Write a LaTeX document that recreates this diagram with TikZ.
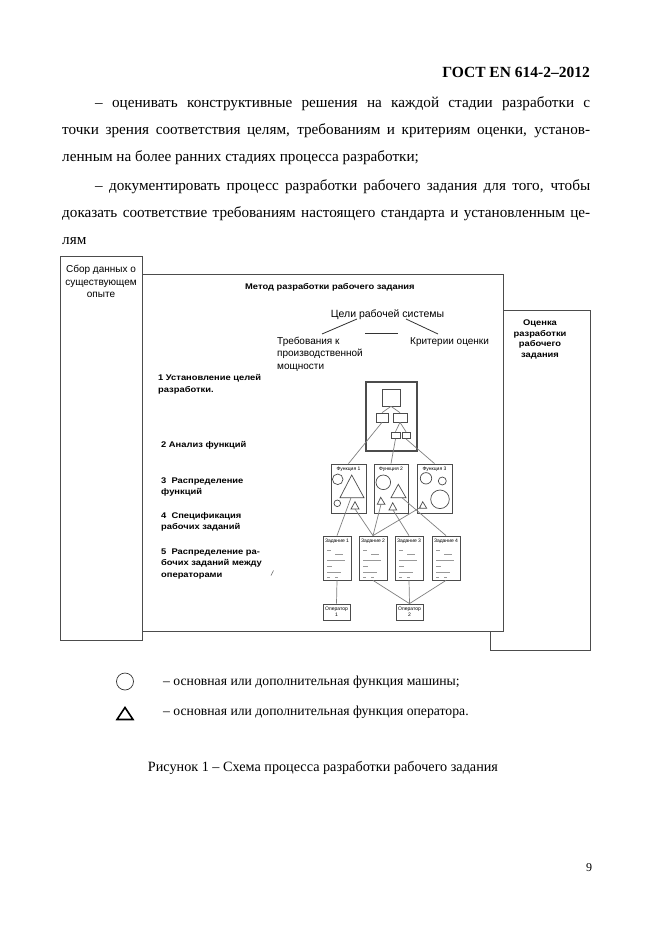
\documentclass[tikz,border=0pt]{standalone}
\usepackage{fontspec}
\setmainfont{Liberation Serif}
\newfontfamily\arialfam{Liberation Sans}
\newcommand{\wb}[1]{\scalebox{1.14}[1]{#1}}
\begin{document}
\begin{tikzpicture}[x=1pt,y=-1pt,
  frame/.style={draw=black!70, line width=0.9pt, fill=white, inner sep=0pt},
  sbox/.style={draw=black!70, line width=0.8pt, fill=white, inner sep=0pt},
  conn/.style={draw=black!50, line width=0.7pt},
  shp/.style={draw=black!70, line width=0.7pt},
  body/.style={font=\fontsize{15.2}{17}\selectfont, inner sep=0pt, anchor=base west},
  lbl/.style={font=\arialfam\bfseries\fontsize{8.2}{10}\selectfont, inner sep=0pt, anchor=base west},
  sans/.style={font=\arialfam\fontsize{10}{12}\selectfont, inner sep=0pt},
  tiny/.style={font=\arialfam\fontsize{5}{6}\selectfont, inner sep=0pt},
  scrib/.style={draw=black!40, line width=0.5pt}
]
\useasboundingbox (0,0) rectangle (661,936);
\fill[white] (0,0) rectangle (661,936);

% ---------- page text ----------
\node[inner sep=0pt, anchor=base east, font=\bfseries\fontsize{15.5}{17}\selectfont] (hdr) at (590,78) {ГОСТ EN 614-2–2012};
\node[body] (p1) at (95,108) {\makebox[495pt][s]{– оценивать конструктивные решения на каждой стадии разработки с}};
\node[body] (p2) at (62,135) {\makebox[528pt][s]{точки зрения соответствия целям, требованиям и критериям оценки, установ-}};
\node[body] (p3) at (62,162) {ленным на более ранних стадиях процесса разработки;};
\node[body] (p4) at (95,190) {\makebox[495pt][s]{– документировать процесс разработки рабочего задания для того, чтобы}};
\node[body] (p5) at (62,217) {\makebox[528pt][s]{доказать соответствие требованиям настоящего стандарта и установленным це-}};
\node[body] (p6) at (62,244) {лям};

% ---------- big frames ----------
\node[frame, minimum width=82pt, minimum height=384pt] (lb) at (101,448) {};
\node[frame, minimum width=100pt, minimum height=340pt] (rb) at (540,480) {};
\node[frame, minimum width=361pt, minimum height=357pt] (mb) at (322.5,452.5) {};

\node[sans, anchor=base] (lbt1) at (101,272) {Сбор данных о};
\node[sans, anchor=base] (lbt2) at (101,285) {существующем};
\node[sans, anchor=base] (lbt3) at (101,297) {опыте};

\node[lbl, anchor=base] (rbt1) at (540,325) {\wb{Оценка}};
\node[lbl, anchor=base] (rbt2) at (540,336) {\wb{разработки}};
\node[lbl, anchor=base] (rbt3) at (540,346) {\wb{рабочего}};
\node[lbl, anchor=base] (rbt4) at (540,357) {\wb{задания}};

\node[lbl] (title) at (245,289) {\wb{Метод разработки рабочего задания}};

% goals
\node[sans, anchor=base, font=\arialfam\fontsize{10.5}{12}\selectfont] (goal) at (387.5,317) {Цели рабочей системы};
\node[sans, anchor=base west] (req1) at (277,344) {Требования к};
\node[sans, anchor=base west] (req2) at (277,356) {производственной};
\node[sans, anchor=base west] (req3) at (277,369) {мощности};
\node[sans, anchor=base west] (crit) at (410,344) {Критерии оценки};
\coordinate (gl) at (357,319);
\coordinate (gr) at (406,319);
\coordinate (rq) at (322,334);
\coordinate (cr) at (438,334);
\coordinate (ha) at (365,333);
\coordinate (hb) at (398,333);
\draw[black!80, line width=0.8pt] (gl) -- (rq);
\draw[black!80, line width=0.8pt] (gr) -- (cr);
\draw[black!80, line width=0.8pt] (ha) -- (hb);

% stage labels
\node[lbl] (s1a) at (158,380) {\wb{1 Установление целей}};
\node[lbl] (s1b) at (158,392) {\wb{разработки.}};
\node[lbl] (s2) at (161,447) {\wb{2 Анализ функций}};
\node[lbl] (s3a) at (161,483) {\wb{3\ \ Распределение}};
\node[lbl] (s3b) at (161,494) {\wb{функций}};
\node[lbl] (s4a) at (161,518) {\wb{4\ \ Спецификация}};
\node[lbl] (s4b) at (161,529) {\wb{рабочих заданий}};
\node[lbl] (s5a) at (161,554) {\wb{5\ \ Распределение ра-}};
\node[lbl] (s5b) at (161,565) {\wb{бочих заданий между}};
\node[lbl] (s5c) at (161,577) {\wb{операторами}};
\coordinate (mk1) at (271,575.5);
\coordinate (mk2) at (273.5,570.5);
\draw[black!60, line width=0.6pt] (mk1) -- (mk2);

% ---------- system box ----------
\node[draw=black!70, line width=1.1pt, inner sep=0pt, minimum width=51pt, minimum height=69pt] (sys) at (391.5,416.5) {};
\node[shp, inner sep=0pt, minimum width=18pt, minimum height=17pt] (sq) at (391,397.5) {};
\node[shp, inner sep=0pt, minimum width=12pt, minimum height=9pt] (sl) at (382,417.5) {};
\node[shp, inner sep=0pt, minimum width=14pt, minimum height=9pt] (sr) at (400,417.5) {};
\node[shp, inner sep=0pt, minimum width=9pt, minimum height=6.5pt] (tl) at (395.5,435.3) {};
\node[shp, inner sep=0pt, minimum width=8pt, minimum height=6.5pt] (tr) at (406,435.3) {};
\draw[conn] (sq.south) -- (sl.north);
\draw[conn] (sq.south) -- (sr.north);
\draw[conn] (sr.south) -- (tl.north);
\draw[conn] (sr.south) -- (tr.north);

% ---------- function boxes ----------
\node[sbox, minimum width=35pt, minimum height=49pt] (f1) at (348.5,488.5) {};
\node[sbox, minimum width=34pt, minimum height=49pt] (f2) at (391,488.5) {};
\node[sbox, minimum width=35pt, minimum height=49pt] (f3) at (434.5,488.5) {};
\node[tiny] (f1t) at (348.5,469) {Функция 1};
\node[tiny] (f2t) at (391,469) {Функция 2};
\node[tiny] (f3t) at (434.5,469) {Функция 3};

\draw[conn] (sl.south) -- (f1.north);
\draw[conn] (tl.south) -- (f2.north);
\draw[conn] (tr.south) -- (f3.north);

% shapes in function 1
\draw[shp] (337.7,479.3) circle (5.3);
\draw[shp] (351.7,475) -- (340,497.7) -- (364,497.7) -- cycle;
\draw[shp] (337.3,503.3) circle (3.3);
\draw[shp] (355,501.7) -- (351,509) -- (359,509) -- cycle;
% shapes in function 2
\draw[shp] (383.3,482.3) circle (7.3);
\draw[shp] (398.3,484.3) -- (391,497.7) -- (406,497.7) -- cycle;
\draw[shp] (380.7,497.3) -- (377.3,504.3) -- (385,504.3) -- cycle;
\draw[shp] (392.7,502.7) -- (389,510) -- (396.7,510) -- cycle;
% shapes in function 3
\draw[shp] (426,478.3) circle (5.7);
\draw[shp] (442.3,481) circle (4);
\draw[shp] (440,499.3) circle (9.3);
\draw[shp] (422.7,501.7) -- (419.3,508.3) -- (426.7,508.3) -- cycle;

\coordinate (a1) at (351,497.7);
\coordinate (a2) at (355,509);
\coordinate (a3) at (381,504.3);
\coordinate (a4) at (421,507);
\coordinate (a5) at (393,510);
\coordinate (a6) at (402,497.7);

% ---------- task boxes ----------
\node[sbox, minimum width=28pt, minimum height=44pt] (t1) at (337,558) {};
\node[sbox, minimum width=28pt, minimum height=44pt] (t2) at (373,558) {};
\node[sbox, minimum width=28pt, minimum height=44pt] (t3) at (409,558) {};
\node[sbox, minimum width=28pt, minimum height=44pt] (t4) at (446,558) {};
\node[tiny] (t1t) at (337,541) {Задание 1};
\node[tiny] (t2t) at (373,541) {Задание 2};
\node[tiny] (t3t) at (409,541) {Задание 3};
\node[tiny] (t4t) at (446,541) {Задание 4};

% scribbles
\foreach \cx in {337,373,409,446}{
  \draw[scrib] (\cx-10,550) -- (\cx-6,550);
  \draw[scrib] (\cx-2,554) -- (\cx+6,554);
  \draw[scrib] (\cx-10,560) -- (\cx+8,560);
  \draw[scrib] (\cx-10,566) -- (\cx-5,566);
  \draw[scrib] (\cx-10,572) -- (\cx+4,572);
  \draw[scrib] (\cx-10,577) -- (\cx-7,577);
  \draw[scrib] (\cx-2,577) -- (\cx+1,577);
}

\draw[conn] (a1) -- (t1.north);
\draw[conn] (a2) -- (t2.north);
\draw[conn] (a3) -- (t2.north);
\draw[conn] (a4) -- (t2.north);
\draw[conn] (a5) -- (t3.north);
\draw[conn] (a6) -- (t4.north);

% ---------- operators ----------
\node[sbox, minimum width=27pt, minimum height=16pt] (o1) at (336.5,612) {};
\node[sbox, minimum width=27pt, minimum height=16pt] (o2) at (409.5,612) {};
\node[tiny, align=center] (o1t) at (336.5,612) {Оператор\\1};
\node[tiny, align=center] (o2t) at (409.5,612) {Оператор\\2};
\draw[conn] (t1.south) -- (o1.north);
\draw[conn] (t2.south) -- (o2.north);
\draw[conn] (t3.south) -- (o2.north);
\draw[conn] (t4.south) -- (o2.north);

% ---------- legend ----------
\node[draw=black!80, line width=0.7pt, circle, minimum size=17pt, inner sep=0pt] (lc) at (125,681.5) {};
\draw[black, line width=1.6pt, line join=miter] (125,707.5) -- (117,719.5) -- (133,719.5) -- cycle;
\node[inner sep=0pt, anchor=base west, font=\fontsize{13.7}{15}\selectfont] (lg1) at (163,685.5) {– основная или дополнительная функция машины;};
\node[inner sep=0pt, anchor=base west, font=\fontsize{13.7}{15}\selectfont] (lg2) at (163,715.5) {– основная или дополнительная функция оператора.};

\node[inner sep=0pt, anchor=base, font=\fontsize{14.2}{16}\selectfont] (cap) at (323,771) {Рисунок 1 – Схема процесса разработки рабочего задания};
\node[inner sep=0pt, anchor=base, font=\fontsize{12}{14}\selectfont] (pg) at (589,871) {9};
\end{tikzpicture}
\end{document}
